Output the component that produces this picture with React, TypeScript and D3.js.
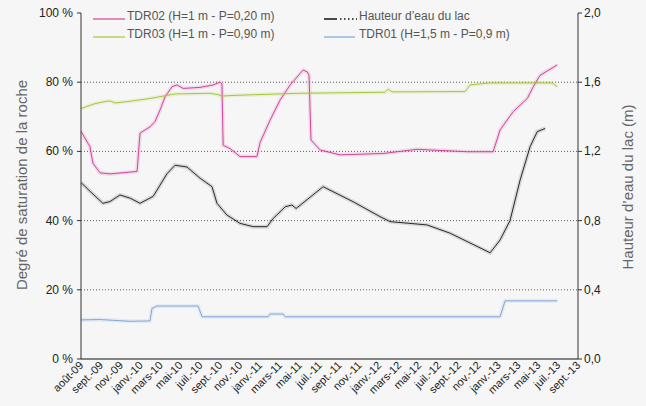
import React from "react";
import * as d3 from "d3";

const xLabels = ["août-09","sept.-09","nov.-09","janv.-10","mars-10","mai-10","juil.-10","sept.-10","nov.-10","janv.-11","mars-11","mai-11","juil.-11","sept.-11","nov.-11","janv.-12","mars-12","mai-12","juil.-12","sept.-12","nov.-12","janv.-13","mars-13","mai-13","juil.-13","sept.-13"];
const leftTicks = [0, 20, 40, 60, 80, 100];
const rightTicks = [0, 0.4, 0.8, 1.2, 1.6, 2.0];

// [position in label-index units, saturation %]
const tdr02: [number, number][] = [[0,65.8],[0.45,61.4],[0.6,56.6],[0.96,53.8],[1.46,53.5],[2.82,54.2],[2.97,65.3],[3.47,67.1],[3.72,68.6],[3.98,72],[4.23,75.8],[4.58,78.7],[4.83,79.2],[5.14,78.2],[5.99,78.5],[6.65,79.2],[6.99,80],[7.09,79.5],[7.15,61.8],[7.5,60.8],[8.0,58.5],[8.85,58.5],[9.01,62.6],[9.51,69],[10.01,74.8],[10.52,79.2],[11.17,83.5],[11.38,83],[11.47,82],[11.57,63.3],[12.03,60.4],[13.03,59],[15.2,59.4],[16.91,60.6],[19.43,59.9],[20.73,59.9],[21.08,66.2],[21.74,71.5],[22.45,75.3],[22.75,78.7],[23.09,82],[23.96,85]];
const tdr03: [number, number][] = [[0,72.4],[0.71,73.8],[1.21,74.4],[1.46,74.6],[1.71,74],[2.47,74.5],[3.47,75.3],[4.73,76.6],[6.49,76.8],[6.9,76.4],[7.09,76],[7.75,76.2],[11.02,76.8],[15.3,77.1],[15.45,78],[15.65,77.2],[19.32,77.3],[19.57,79.2],[20.58,79.8],[23.7,79.8],[23.96,78.7]];
const tdr01: [number, number][] = [[0,11.3],[0.96,11.4],[2.47,10.9],[3.47,11],[3.57,14.6],[3.82,15.3],[5.89,15.3],[6.09,12.2],[9.41,12.2],[9.51,13],[10.17,13],[10.27,12.2],[21.08,12.2],[21.33,16.8],[23.96,16.8]];
// [position, lake height m]
const lake: [number, number][] = [[0,1.02],[0.45,0.97],[1.1,0.9],[1.46,0.91],[1.96,0.948],[2.47,0.93],[2.97,0.9],[3.63,0.94],[4.32,1.07],[4.73,1.12],[5.33,1.11],[5.99,1.045],[6.59,0.996],[6.84,0.9],[7.34,0.832],[8.0,0.784],[8.66,0.765],[9.36,0.765],[9.67,0.813],[10.01,0.85],[10.27,0.88],[10.61,0.89],[10.82,0.87],[12.18,0.996],[13.69,0.909],[15.04,0.823],[15.55,0.794],[17.41,0.775],[18.57,0.727],[20.58,0.614],[21.08,0.688],[21.58,0.8],[22.09,1.035],[22.59,1.227],[22.95,1.314],[23.35,1.333]];

const W = 646, H = 406;
const L = 81, R = 578, T = 13, B = 359;

export default function App() {
  const x = d3.scaleLinear().domain([0, xLabels.length - 1]).range([L, R]);
  const yL = d3.scaleLinear().domain([0, 100]).range([B, T]);
  const yR = d3.scaleLinear().domain([0, 2]).range([B, T]);
  const lineL = d3.line<[number, number]>().x(d => x(d[0])).y(d => yL(d[1]));
  const lineR = d3.line<[number, number]>().x(d => x(d[0])).y(d => yR(d[1]));
  const font = "'Liberation Sans', Arial, Helvetica, sans-serif";
  const series = [
    { d: lineL(tdr02), c: "#d2449a" },
    { d: lineL(tdr03), c: "#a6c83a" },
    { d: lineL(tdr01), c: "#7ea8dc" },
    { d: lineR(lake), c: "#2a2a2a" },
  ];
  return (
    <svg width={W} height={H} style={{ position: "absolute", left: 0, top: 0, fontFamily: font }}>
      <rect width={W} height={H} fill="#f6f6f6" />
      {leftTicks.filter(v => v > 0 && v < 100).map(v => (
        <line key={v} x1={L} x2={R} y1={yL(v)} y2={yL(v)} stroke="#333" strokeWidth={0.8} strokeDasharray="1,2" />
      ))}
      {series.map((s, i) => (
        <g key={i}>
          <path d={s.d || ""} fill="none" stroke={s.c} strokeOpacity={0.15} strokeWidth={4} />
          <path d={s.d || ""} fill="none" stroke={s.c} strokeWidth={1} />
        </g>
      ))}
      <line x1={L} x2={L} y1={T} y2={B} stroke="#555" strokeWidth={1.2} />
      <line x1={R} x2={R} y1={T} y2={B} stroke="#555" strokeWidth={1.2} />
      <line x1={L} x2={R} y1={B} y2={B} stroke="#111" strokeWidth={1.2} />
      {leftTicks.map(v => (
        <g key={v}>
          <line x1={L - 4} x2={L} y1={yL(v)} y2={yL(v)} stroke="#333" />
          <text x={L - 8} y={yL(v) + 4} textAnchor="end" fontSize={12} fill="#222">{v} %</text>
        </g>
      ))}
      {rightTicks.map(v => (
        <g key={v}>
          <line x1={R} x2={R + 4} y1={yR(v)} y2={yR(v)} stroke="#333" />
          <text x={R + 6} y={yR(v) + 4} fontSize={12} fill="#222">{d3.format(".1f")(v).replace(".", ",")}</text>
        </g>
      ))}
      {xLabels.map((lab, i) => (
        <g key={lab}>
          <text transform={`translate(${x(i) + 3},${B + 7}) rotate(-45)`} textAnchor="end" fontSize={11} fill="#222">{lab}</text>
        </g>
      ))}
      <text transform={`translate(27,185) rotate(-90)`} textAnchor="middle" fontSize={15} fill="#666">Degré de saturation de la roche</text>
      <text transform={`translate(633,187) rotate(-90)`} textAnchor="middle" fontSize={15} fill="#666">Hauteur d’eau du lac (m)</text>
      <g fontSize={12} fill="#555">
        <line x1={93} x2={125} y1={19} y2={19} stroke="#d2449a" strokeWidth={1.2} />
        <text x={127} y={20}>TDR02 (H=1 m - P=0,20 m)</text>
        <line x1={93} x2={125} y1={37} y2={37} stroke="#a6c83a" strokeWidth={1.2} />
        <text x={127} y={38}>TDR03 (H=1 m - P=0,90 m)</text>
        <line x1={324} x2={337} y1={19} y2={19} stroke="#111" strokeWidth={1.5} />
        <line x1={340} x2={357} y1={19} y2={19} stroke="#111" strokeWidth={1.5} strokeDasharray="1.5,2.5" />
        <text x={359} y={20}>Hauteur d’eau du lac</text>
        <line x1={324} x2={355} y1={37} y2={37} stroke="#7ea8dc" strokeWidth={1.2} />
        <text x={359} y={38}>TDR01 (H=1,5 m - P=0,9 m)</text>
      </g>
    </svg>
  );
}
